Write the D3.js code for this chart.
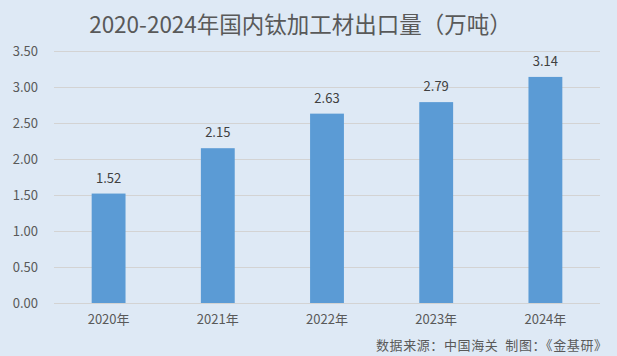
<!DOCTYPE html>
<html><head><meta charset="utf-8">
<script src="https://cdn.jsdelivr.net/npm/d3@7"></script>
<style>html,body{margin:0;padding:0;background:#dee9f5;}svg{display:block;}</style>
</head><body>
<svg id="c" width="617" height="356"></svg>
<script>
const categories = ["2020年","2021年","2022年","2023年","2024年"];
const values = [1.52, 2.15, 2.63, 2.79, 3.14];
const yTicks = [0, 0.5, 1, 1.5, 2, 2.5, 3, 3.5];
const title = "2020-2024年国内钛加工材出口量（万吨）";
const source = "数据来源：中国海关  制图：《金基研》";

const W = 617, H = 356;
const font = "'Noto Sans CJK SC','Noto Sans',sans-serif";
const svg = d3.select("#c");
svg.append("rect").attr("width", W).attr("height", H).attr("fill", "#dee9f5");

const x = d3.scaleBand().domain(categories).range([54, 600]).paddingInner(0.69).paddingOuter(0.345);
const y = d3.scaleLinear().domain([0, 3.5]).range([303, 51]);

svg.append("g").selectAll("line").data(yTicks).join("line")
  .attr("x1", 54).attr("x2", 600)
  .attr("y1", d => Math.round(y(d)) + 0.5).attr("y2", d => Math.round(y(d)) + 0.5)
  .attr("stroke", "#d3d3d3").attr("stroke-width", 1);

const yAxis = d3.axisLeft(y).tickValues(yTicks).tickFormat(d3.format(".2f")).tickSize(0).tickPadding(0);
const ga = svg.append("g").attr("transform", "translate(38,0)").call(yAxis);
ga.select(".domain").remove();
ga.selectAll("text").attr("fill", "#595959").style("font-family", font).style("font-size", "13px");

svg.append("g").selectAll("rect").data(values).join("rect")
  .attr("x", (d, i) => x(categories[i]))
  .attr("width", x.bandwidth())
  .attr("y", d => y(d))
  .attr("height", d => y(0) - y(d))
  .attr("fill", "#5b9bd5");

svg.append("g").selectAll("text").data(values).join("text")
  .attr("x", (d, i) => x(categories[i]) + x.bandwidth() / 2)
  .attr("y", d => y(d) - 11)
  .attr("text-anchor", "middle")
  .attr("fill", "#404040")
  .style("font-family", font).style("font-size", "13px")
  .text(d => d3.format(".2f")(d));

const xAxis = d3.axisBottom(x).tickSize(0).tickPadding(0);
const gx = svg.append("g").attr("transform", "translate(0,315)").call(xAxis);
gx.select(".domain").remove();
gx.selectAll("text").attr("fill", "#595959").style("font-family", font).style("font-size", "13px");

svg.append("text").attr("x", 300.5).attr("y", 33).attr("text-anchor", "middle")
  .attr("fill", "#595959").style("font-family", font).style("font-size", "22.5px")
  .text(title);

svg.append("text").attr("x", 376).attr("y", 350).attr("text-anchor", "start")
  .attr("textLength", 231).attr("lengthAdjust", "spacing")
  .style("white-space", "pre")
  .attr("fill", "#595959").style("font-family", font).style("font-size", "13px")
  .text(source);
</script>
</body></html>
